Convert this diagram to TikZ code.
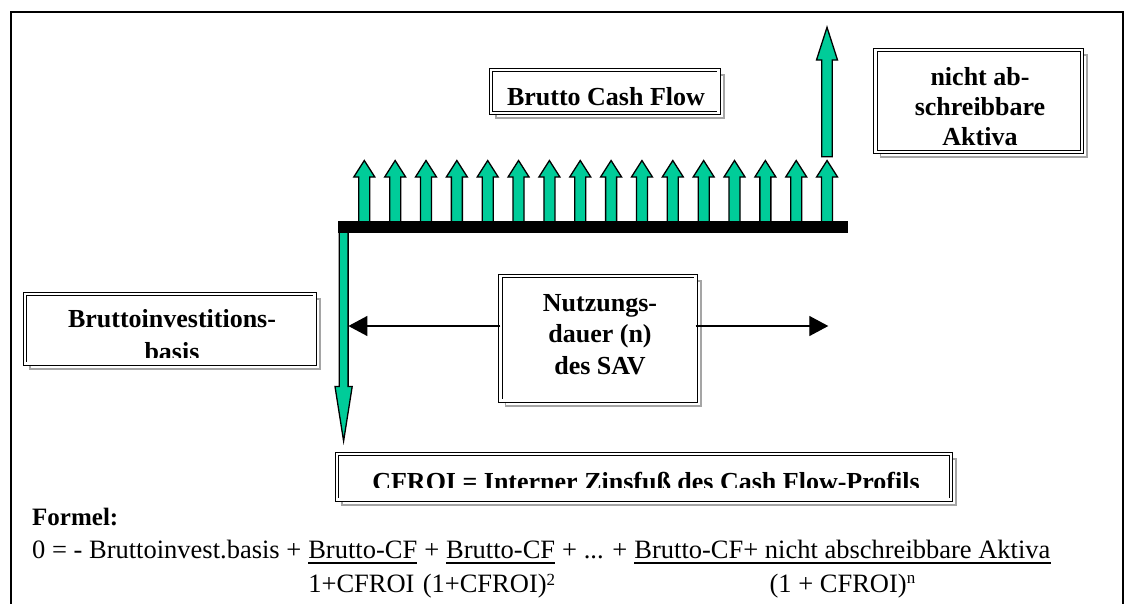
\documentclass[tikz,border=0pt]{standalone}
\usepackage{fontspec}
\setmainfont{Liberation Serif}
\usetikzlibrary{arrows.meta,calc}
\definecolor{cfgreen}{RGB}{0,204,153}
\definecolor{shadowgray}{RGB}{165,165,165}
\newcommand{\bbold}{\fontsize{26}{30}\selectfont\bfseries}
\newcommand{\sups}[2]{\raisebox{#1pt}{\fontsize{17}{17}\selectfont #2}}
\newcommand{\cfbox}[5]{%
  \path[shadowline] ({#2-#4/2+5},{#3-#5/2+5}) rectangle ({#2+#4/2+5},{#3+#5/2+5});
  \node[dbox, minimum width=#4pt, minimum height=#5pt] (#1) at (#2,#3) {};}
\begin{document}
\begin{tikzpicture}[x=1pt,y=-1pt,
  dbox/.style={draw=black, double=white, double distance=2.4pt, line width=0.9pt, fill=white, inner sep=0pt, outer sep=0pt},
  boxtext/.style={font=\bbold, inner sep=0pt, anchor=base},
  fml/.style={font=\fontsize{26.5}{30}\selectfont, inner sep=0pt, anchor=base west},
  den/.style={font=\fontsize{26.5}{30}\selectfont, inner sep=0pt},
  cfarrow/.style={fill=cfgreen, draw=black, line width=1.3pt, line join=miter},
  harrow/.style={draw=black, line width=1.3pt, -{Triangle[length=19pt,width=20pt]}},
  shadowline/.style={draw=shadowgray, fill=white, line width=1.8pt},
  uline/.style={draw=black, line width=1.6pt}
]
\useasboundingbox (0,0) rectangle (1126,603);
% frame
\draw[line width=2.6pt] (11,610) -- (11,12) -- (1123,12) -- (1123,610);
% small up arrows
\foreach \i in {0,...,15} {
  \pgfmathsetmacro{\ax}{364.3+30.85*\i}
  \path[cfarrow] ({\ax-5.5},222) -- ({\ax-5.5},177) -- ({\ax-10.5},177) -- (\ax,160.5) -- ({\ax+10.5},177) -- ({\ax+5.5},177) -- ({\ax+5.5},222);
}
% tall arrow (nicht abschreibbare Aktiva)
\path[cfarrow] (821.7,156.7) -- (821.7,60) -- (816.5,60) -- (827,27.3) -- (837.5,60) -- (832.3,60) -- (832.3,156.7) -- cycle;
% time bar
\fill[black] (338,221) rectangle (848,233.3);
% down arrow (Bruttoinvestitionsbasis)
\path[cfarrow] (339.3,233) -- (339.3,386.5) -- (335,386.5) -- (343.6,441) -- (352.2,386.5) -- (348.1,386.5) -- (348.1,233);
% boxes
\cfbox{bcf}{604.7}{91.35}{227.8}{43.1}
\cfbox{naa}{978.65}{100.85}{206.5}{102.1}
\cfbox{bib}{169.7}{328.7}{289.8}{69.8}
\cfbox{nut}{598}{338.35}{195.2}{124.5}
\cfbox{cfr}{644.15}{476.85}{614.1}{45.5}
% horizontal arrows
\coordinate (lt) at (348.4,326);
\coordinate (rt) at (828.3,326);
\draw[harrow] (nut.west |- lt) -- (lt);
\draw[harrow] (nut.east |- rt) -- (rt);
% box texts
\node[boxtext] (tbcf) at (606,105) {Brutto Cash Flow};
\node[boxtext] (tnaa1) at (980,85) {nicht ab-};
\node[boxtext] (tnaa2) at (980,115) {schreibbare};
\node[boxtext] (tnaa3) at (980,145.7) {Aktiva};
\node[boxtext] (tbib1) at (172,327) {Bruttoinvestitions-};
\begin{scope}
  \clip (26,300) rectangle (314,357);
  \node[boxtext] (tbib2) at (172,360) {basis};
\end{scope}
\node[boxtext] (tnut1) at (600,311) {Nutzungs-};
\node[boxtext] (tnut2) at (600,342.7) {dauer (n)};
\node[boxtext] (tnut3) at (600,374) {des SAV};
\begin{scope}
  \clip (340,456) rectangle (950,487);
  \node[boxtext] (tcfr) at (646,490) {CFROI = Interner Zinsfuß des Cash Flow-Profils};
\end{scope}
% formula
\node[font=\fontsize{25}{30}\selectfont\bfseries, inner sep=0pt, anchor=base west] (formel) at (32,525) {Formel:};
\node[fml] (f0) at (32,558) {0 = - Bruttoinvest.basis +};
\node[fml] (n1) at ([xshift=6.6pt]f0.base east) {Brutto-CF};
\node[fml] (p1) at ([xshift=6.6pt]n1.base east) {+};
\node[fml] (n2) at ([xshift=6.6pt]p1.base east) {Brutto-CF};
\node[fml] (p2) at ([xshift=6.6pt]n2.base east) {+ ... +};
\node[fml] (n3) at ([xshift=6.6pt]p2.base east) {Brutto-CF+ nicht abschreibbare Aktiva};
\draw[uline] ([yshift=-5pt]n1.base west) -- ([yshift=-5pt]n1.base east);
\draw[uline] ([yshift=-5pt]n2.base west) -- ([yshift=-5pt]n2.base east);
\draw[uline] ([yshift=-5pt]n3.base west) -- ([yshift=-5pt]n3.base east);
\node[den, anchor=base west] (d1) at ([yshift=-34pt]n1.base west) {1+CFROI};
\node[den, anchor=base east] (d2) at ([yshift=-34pt]n2.base east) {(1+CFROI)\sups{7}{2}};
\node[den, anchor=base] (d3) at ([yshift=-34pt]n3.base) {(1 + CFROI)\sups{9}{n}};
\end{tikzpicture}
\end{document}
